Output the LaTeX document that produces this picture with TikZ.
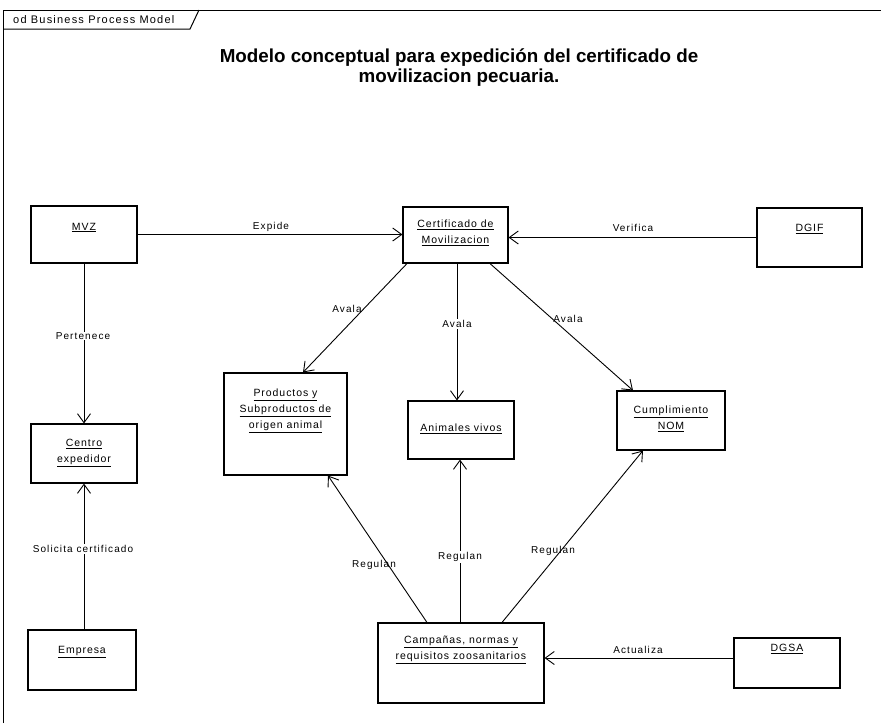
\documentclass[tikz,border=0pt]{standalone}
\usepackage{fontspec}
\setmainfont{Liberation Sans}
\newfontfamily\boxfont[LetterSpace=9]{Liberation Sans}
\newfontfamily\edgefont[LetterSpace=11]{Liberation Sans}
\usetikzlibrary{arrows.meta,calc}
\newcommand{\uln}[1]{\underline{#1}}
% #1 width, #2 height, #3 space above first line, #4 text
\newcommand{\boxtxt}[4]{\parbox[c][#2][t]{#1}{\vspace*{#3}\centering\boxfont\fontsize{10.5}{16}\selectfont #4\par}}
\begin{document}
\begin{tikzpicture}[x=1pt,y=-1pt,
  box/.style={draw, line width=1.1pt, inner sep=0pt, fill=white},
  lbl/.style={font=\edgefont\fontsize{10}{12}\selectfont, inner sep=1pt},
  lblw/.style={lbl, fill=white},
  rel/.style={line width=0.9pt, -{Straight Barb[length=9pt,width=13pt,line width=0.9pt]}}]
\useasboundingbox (0,0) rectangle (881,724);

% diagram frame and its name tab
\draw[line width=1pt] (3,723) -- (3,10) -- (881,10);
\draw[line width=1pt] (3,29) -- (190,29) -- (199,10);
\node[anchor=west, inner sep=0pt, font=\edgefont\fontsize{11}{13}\selectfont] (frametitle) at (13,19.5) {od Business Process Model};

% title
\node[align=center, font=\bfseries\fontsize{18.8}{20.5}\selectfont] (title) at (459,67.5)
  {Modelo conceptual para expedición del certificado de\\movilizacion pecuaria.};

% objects
\node[box] (mvz)    at (84,234.5)  {\boxtxt{106pt}{57pt}{17pt}{\uln{MVZ}}};
\node[box] (cert)   at (455.5,235) {\boxtxt{105pt}{56pt}{13pt}{\uln{Certificado de}\\\uln{Movilizacion}}};
\node[box] (dgif)   at (809.5,237.5) {\boxtxt{105pt}{59pt}{16pt}{\uln{DGIF}}};
\node[box] (prod)   at (285.5,424) {\boxtxt{123pt}{102pt}{16pt}{\uln{Productos y}\\\uln{Subproductos de}\\\uln{origen animal}}};
\node[box] (anim)   at (461,430)   {\boxtxt{106pt}{58pt}{23pt}{\uln{Animales vivos}}};
\node[box] (cump)   at (671,420.5) {\boxtxt{108pt}{59pt}{15pt}{\uln{Cumplimiento}\\\uln{NOM}}};
\node[box] (centro) at (84,453.5)  {\boxtxt{106pt}{59pt}{15pt}{\uln{Centro}\\\uln{expedidor}}};
\node[box] (emp)    at (82,660)    {\boxtxt{108pt}{60pt}{16pt}{\uln{Empresa}}};
\node[box] (camp)   at (461,663)   {\boxtxt{166pt}{80pt}{13pt}{\uln{Campañas, normas y}\\\uln{requisitos zoosanitarios}}};
\node[box] (dgsa)   at (787,663)   {\boxtxt{106pt}{50pt}{6pt}{\uln{DGSA}}};

% relations
\coordinate (dgsaport) at ($(dgsa.west)+(0,-5)$);
\draw[rel] (mvz.east) -- (mvz.east -| cert.west);
\draw[rel] (dgif.west) -- (dgif.west -| cert.east);
\draw[rel] (mvz.south) -- (centro.north);
\draw[rel] (emp.north -| centro.south) -- (centro.south);
\draw[rel] ($(cert.south)+(-48.5,0)$) -- ($(prod.north)+(17.5,0)$);
\draw[rel] ($(cert.south)+(1.5,0)$) -- ($(anim.north)+(-4,0)$);
\draw[rel] ($(cert.south)+(34.5,0)$) -- ($(cump.north)+(-38,0)$);
\draw[rel] ($(camp.north)+(-34,0)$) -- ($(prod.south)+(42.5,0)$);
\draw[rel] ($(camp.north)+(-1,0)$) -- ($(anim.south)+(-1,0)$);
\draw[rel] ($(camp.north)+(41,0)$) -- ($(cump.south)+(-28,0)$);
\draw[rel] (dgsaport) -- (dgsaport -| camp.east);

% relation labels
\node[lbl]  (lexpide)   at (271,227) {Expide};
\node[lbl]  (lverifica) at (633,228) {Verifica};
\node[lblw] (lpert)     at (83,336)  {Pertenece};
\node[lblw] (lsolic)    at (83,549)  {Solicita certificado};
\node[lbl]  (lavala1)   at (347,309) {Avala};
\node[lblw] (lavala2)   at (457,324) {Avala};
\node[lbl]  (lavala3)   at (568,319) {Avala};
\node[lbl]  (lreg1)     at (374,565) {Regulan};
\node[lblw] (lreg2)     at (460,557) {Regulan};
\node[lbl]  (lreg3)     at (553,551) {Regulan};
\node[lbl]  (lact)      at (638,650) {Actualiza};
\end{tikzpicture}
\end{document}
